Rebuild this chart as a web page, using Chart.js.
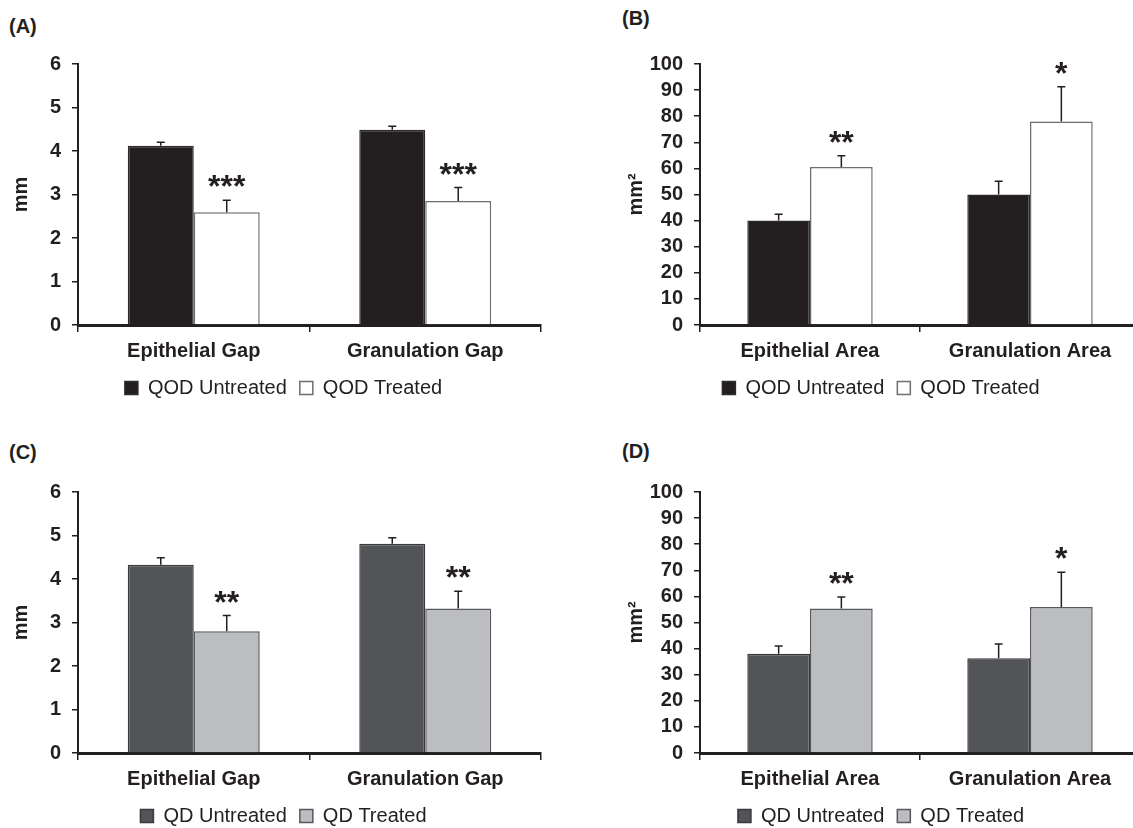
<!DOCTYPE html>
<html>
<head>
<meta charset="utf-8">
<script src="https://cdn.jsdelivr.net/npm/chart.js@4"></script>
<style>
  html, body { margin: 0; padding: 0; background: #fff; }
  body { position: relative; width: 1133px; height: 828px; overflow: hidden; }
  canvas { position: absolute; }
  .tag { position: absolute; font: bold 20px "Liberation Sans", Arial, sans-serif; color: #231f20; }
</style>
</head>
<body>
<div class="tag" style="left:9px;top:15px">(A)</div>
<div class="tag" style="left:622px;top:7px">(B)</div>
<div class="tag" style="left:9px;top:441px">(C)</div>
<div class="tag" style="left:622px;top:440px">(D)</div>

<canvas id="chart-a" width="566" height="408" style="left:0;top:0"></canvas>
<canvas id="chart-b" width="594" height="408" style="left:566px;top:0"></canvas>
<canvas id="chart-c" width="566" height="408" style="left:0;top:428px"></canvas>
<canvas id="chart-d" width="594" height="408" style="left:566px;top:428px"></canvas>

<script>
// Categories
const gapLabels = ['Epithelial Gap', 'Granulation Gap']
const areaLabels = ['Epithelial Area', 'Granulation Area']

// (A) QOD wound gaps, mm
const qodGapUntreated = [4.12, 4.49]
const qodGapUntreatedErr = [0.08, 0.08]
const qodGapTreated = [2.59, 2.85]
const qodGapTreatedErr = [0.28, 0.31]
const qodGapStars = ['***', '***']

// (B) QOD wound areas, mm2
const qodAreaUntreated = [40, 50]
const qodAreaUntreatedErr = [2.4, 5.1]
const qodAreaTreated = [60.5, 78]
const qodAreaTreatedErr = [4.3, 13.3]
const qodAreaStars = ['**', '*']

// (C) QD wound gaps, mm
const qdGapUntreated = [4.33, 4.81]
const qdGapUntreatedErr = [0.16, 0.14]
const qdGapTreated = [2.8, 3.32]
const qdGapTreatedErr = [0.36, 0.4]
const qdGapStars = ['**', '**']

// (D) QD wound areas, mm2
const qdAreaUntreated = [38, 36.3]
const qdAreaUntreatedErr = [3, 5.5]
const qdAreaTreated = [55.4, 55.9]
const qdAreaTreatedErr = [4.4, 13.4]
const qdAreaStars = ['**', '*']

// y axis ranges
const gapMax = 6, gapStep = 1
const areaMax = 100, areaStep = 10

const INK = '#231f20'
Chart.defaults.font.family = '"Liberation Sans", Arial, sans-serif'
Chart.defaults.color = INK

// draws the upper error bar of every bar and the significance stars
const errorBars = {
  id: 'errorBars',
  afterDatasetsDraw(chart) {
    const { ctx } = chart
    const yScale = chart.scales.y
    chart.data.datasets.forEach((ds, i) => {
      chart.getDatasetMeta(i).data.forEach((bar, j) => {
        const top = yScale.getPixelForValue(ds.data[j] + ds.errorBars[j])
        ctx.save()
        ctx.strokeStyle = INK
        ctx.lineWidth = 1.5
        ctx.beginPath()
        ctx.moveTo(bar.x, bar.y)
        ctx.lineTo(bar.x, top)
        ctx.moveTo(bar.x - 4, top)
        ctx.lineTo(bar.x + 4, top)
        ctx.stroke()
        if (ds.stars) {
          ctx.fillStyle = INK
          ctx.font = 'bold 32px "Liberation Sans", Arial, sans-serif'
          ctx.textAlign = 'center'
          ctx.textBaseline = 'alphabetic'
          ctx.fillText(ds.stars[j], bar.x, top - 3)
        }
        ctx.restore()
      })
    })
  }
}

function panel(id, p) {
  new Chart(document.getElementById(id), {
    type: 'bar',
    data: {
      labels: p.labels,
      datasets: [{
        label: p.names[0],
        data: p.untreated,
        errorBars: p.untreatedErr,
        backgroundColor: p.colors[0],
        borderColor: p.borders[0],
        borderWidth: 1.5,
        categoryPercentage: 0.57,
        barPercentage: 1.0
      }, {
        label: p.names[1],
        data: p.treated,
        errorBars: p.treatedErr,
        stars: p.stars,
        backgroundColor: p.colors[1],
        borderColor: p.borders[1],
        borderWidth: 1.5,
        categoryPercentage: 0.57,
        barPercentage: 1.0
      }]
    },
    options: {
      responsive: false,
      animation: false,
      events: [],
      layout: { padding: { left: p.padLeft, right: p.padRight, top: 64, bottom: 0 } },
      plugins: {
        tooltip: { enabled: false },
        legend: {
          position: 'bottom',
          labels: {
            boxWidth: 13,
            boxHeight: 13,
            padding: 13,
            color: INK,
            font: { size: 20 }
          }
        }
      },
      scales: {
        x: {
          z: 1,
          afterFit(scale) { scale.height = 40 },
          border: { color: INK, width: 3 },
          grid: { offset: true, drawOnChartArea: false, drawTicks: true, tickLength: 7, color: INK, lineWidth: 1.5 },
          ticks: { padding: 7, color: INK, font: { size: 20, weight: 'bold' } }
        },
        y: {
          min: 0,
          max: p.max,
          afterFit(scale) { scale.width = p.axisWidth },
          border: { color: INK, width: 2 },
          grid: { drawOnChartArea: false, drawTicks: true, tickLength: 6, color: INK, lineWidth: 1.5 },
          ticks: { stepSize: p.step, autoSkip: false, padding: 11, color: INK, font: { size: 20, weight: 'bold' } },
          title: {
            display: true,
            text: p.unit,
            color: INK,
            font: { size: 20, weight: 'bold' },
            padding: { top: p.titlePad, bottom: 0 }
          }
        }
      }
    },
    plugins: [errorBars]
  })
}

const qodColors = ['#231f20', '#ffffff'], qodBorders = ['#2e2a2b', '#6d6e71']
const qdColors = ['#535457', '#bcbdc0'], qdBorders = ['#3a3a3c', '#58595b']

panel('chart-a', {
  labels: gapLabels, names: ['QOD Untreated', 'QOD Treated'],
  untreated: qodGapUntreated, untreatedErr: qodGapUntreatedErr,
  treated: qodGapTreated, treatedErr: qodGapTreatedErr, stars: qodGapStars,
  colors: qodColors, borders: qodBorders, max: gapMax, step: gapStep, unit: 'mm',
  padLeft: 26, padRight: 25, axisWidth: 52, titlePad: -17
})
panel('chart-b', {
  labels: areaLabels, names: ['QOD Untreated', 'QOD Treated'],
  untreated: qodAreaUntreated, untreatedErr: qodAreaUntreatedErr,
  treated: qodAreaTreated, treatedErr: qodAreaTreatedErr, stars: qodAreaStars,
  colors: qodColors, borders: qodBorders, max: areaMax, step: areaStep, unit: 'mm²',
  padLeft: 56, padRight: 20, axisWidth: 78, titlePad: 2
})
panel('chart-c', {
  labels: gapLabels, names: ['QD Untreated', 'QD Treated'],
  untreated: qdGapUntreated, untreatedErr: qdGapUntreatedErr,
  treated: qdGapTreated, treatedErr: qdGapTreatedErr, stars: qdGapStars,
  colors: qdColors, borders: qdBorders, max: gapMax, step: gapStep, unit: 'mm',
  padLeft: 26, padRight: 25, axisWidth: 52, titlePad: -17
})
panel('chart-d', {
  labels: areaLabels, names: ['QD Untreated', 'QD Treated'],
  untreated: qdAreaUntreated, untreatedErr: qdAreaUntreatedErr,
  treated: qdAreaTreated, treatedErr: qdAreaTreatedErr, stars: qdAreaStars,
  colors: qdColors, borders: qdBorders, max: areaMax, step: areaStep, unit: 'mm²',
  padLeft: 56, padRight: 20, axisWidth: 78, titlePad: 2
})
</script>
</body>
</html>
